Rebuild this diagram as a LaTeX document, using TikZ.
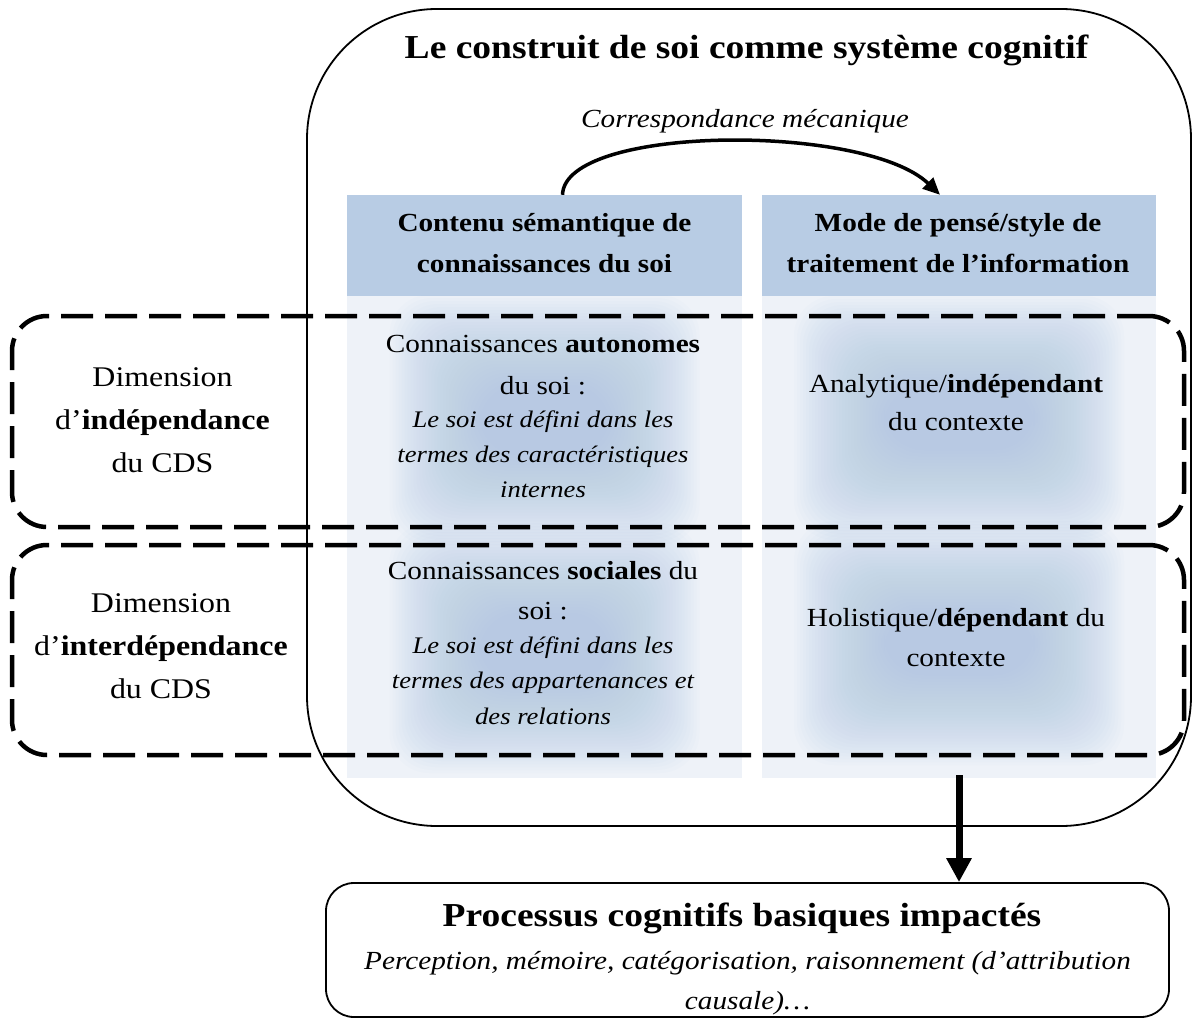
\documentclass[tikz,border=0pt]{standalone}
\usepackage{fontspec}
\setmainfont{Liberation Serif}[FakeStretch=1.12]
\usetikzlibrary{arrows.meta}
\definecolor{hdr}{RGB}{184,204,228}
\definecolor{lite}{RGB}{238,242,248}
\definecolor{glowc}{RGB}{176,199,227}
\newcommand\fbody{\fontsize{28.5}{34}\selectfont}
\newcommand\fcell{\fontsize{26.1}{31}\selectfont}
\newcommand\fital{\fontsize{23.75}{28}\selectfont\itshape}
\newcommand\fbig{\fontsize{33.5}{40}\selectfont\bfseries}
\newcommand\fcorr{\fontsize{26.1}{31}\selectfont\itshape}
\newcommand\glowbox[4]{%
  \foreach \k in {30,29,...,0}{%
    \fill[glowc, fill opacity=0.042, rounded corners=40pt]
      (#1-#3-3*\k, #2-#4-3*\k) rectangle (#1+#3+3*\k, #2+#4+3*\k);
  }}
\tikzset{
  tb/.style={anchor=base, inner sep=0pt, font=\fbody},
  tc/.style={anchor=base, inner sep=0pt, font=\fcell},
  ti/.style={anchor=base, inner sep=0pt, font=\fital},
  hdrbox/.style={fill=hdr, inner sep=0pt, draw=none},
  bodybox/.style={fill=lite, inner sep=0pt, draw=none},
  dashbox/.style={draw, line width=4.5pt, dash pattern=on 32pt off 12pt, rounded corners=35pt, inner sep=0pt},
}
\begin{document}
\begin{tikzpicture}[x=1pt,y=-1pt]
\useasboundingbox (0,0) rectangle (1193,1019);
% big container
\node[draw, line width=1.8pt, rounded corners=130pt, minimum width=884pt, minimum height=817pt, inner sep=0pt] (big) at (749,417.5) {};
% cells
\node[hdrbox, minimum width=395pt, minimum height=101pt] (hL) at (544.5,245.5) {};
\node[hdrbox, minimum width=394pt, minimum height=101pt] (hR) at (959,245.5) {};
\node[bodybox, minimum width=395pt, minimum height=482pt] (bL) at (544.5,537) {};
\node[bodybox, minimum width=394pt, minimum height=482pt] (bR) at (959,537) {};
\begin{scope}
  \clip (bL.north west) rectangle (bL.south east);
  \glowbox{544.5}{420}{65}{35}
  \glowbox{544.5}{648}{65}{35}
\end{scope}
\begin{scope}
  \clip (bR.north west) rectangle (bR.south east);
  \glowbox{959}{418}{75}{32}
  \glowbox{959}{643}{75}{32}
\end{scope}
% dashed dimension boxes
\node[dashbox, minimum width=1172pt, minimum height=211pt] (d1) at (598,421.5) {};
\node[dashbox, minimum width=1172pt, minimum height=210pt] (d2) at (598,650) {};
% bottom box
\node[draw, line width=1.8pt, rounded corners=28pt, minimum width=843pt, minimum height=134pt, inner sep=0pt] (bot) at (747.5,950) {};
% arrows
\draw[line width=3.5pt, -{Triangle[length=17pt,width=15pt]}] ([xshift=18pt]hL.north) .. controls +(2,-70) and +(-75,-72) .. ([xshift=-19pt]hR.north);
\draw[line width=7pt, -{Triangle[length=24pt,width=24pt]}] ([yshift=3pt]bR.south) -- (bR.south |- bot.north);
% texts
\node[anchor=base, inner sep=0pt, font=\fbig] (title) at (746.5,59) {Le construit de soi comme système cognitif};
\node[anchor=base, inner sep=0pt, font=\fcorr] (corr) at (745,128) {Correspondance mécanique};
\node[tc, font=\fcell\bfseries] (h1a) at (544.5,231) {Contenu sémantique de};
\node[tc, font=\fcell\bfseries] (h1b) at (544.5,272) {connaissances du soi};
\node[tc, font=\fcell\bfseries] (h2a) at (958,231) {Mode de pensé/style de};
\node[tc, font=\fcell\bfseries] (h2b) at (958,272) {traitement de l’information};
\node[tb] (d1a) at (162.5,386) {Dimension};
\node[tb] (d1b) at (162.5,429) {d’\textbf{indépendance}};
\node[tb] (d1c) at (162.5,472) {du CDS};
\node[tb] (d2a) at (161,612) {Dimension};
\node[tb] (d2b) at (161,655) {d’\textbf{interdépendance}};
\node[tb] (d2c) at (161,698) {du CDS};
\node[tc] (c1a) at (543,352) {Connaissances \textbf{autonomes}};
\node[tc] (c1b) at (543,394) {du soi :};
\node[ti] (c1c) at (543,427) {Le soi est défini dans les};
\node[ti] (c1d) at (543,462) {termes des caractéristiques};
\node[ti] (c1e) at (543,497) {internes};
\node[tc] (c2a) at (543,579) {Connaissances \textbf{sociales} du};
\node[tc] (c2b) at (543,619) {soi :};
\node[ti] (c2c) at (543,653) {Le soi est défini dans les};
\node[ti] (c2d) at (543,688) {termes des appartenances et};
\node[ti] (c2e) at (543,724) {des relations};
\node[tc] (r1a) at (956,392) {Analytique/\textbf{indépendant}};
\node[tc] (r1b) at (956,430) {du contexte};
\node[tc] (r2a) at (956,626) {Holistique/\textbf{dépendant} du};
\node[tc] (r2b) at (956,666) {contexte};
\node[anchor=base, inner sep=0pt, font=\fbig] (b1) at (742,926) {Processus cognitifs basiques impactés};
\node[tc, font=\fcell\itshape] (b2) at (747.5,969) {Perception, mémoire, catégorisation, raisonnement (d’attribution};
\node[tc, font=\fcell\itshape] (b3) at (747.5,1009) {causale)…};
\end{tikzpicture}
\end{document}
